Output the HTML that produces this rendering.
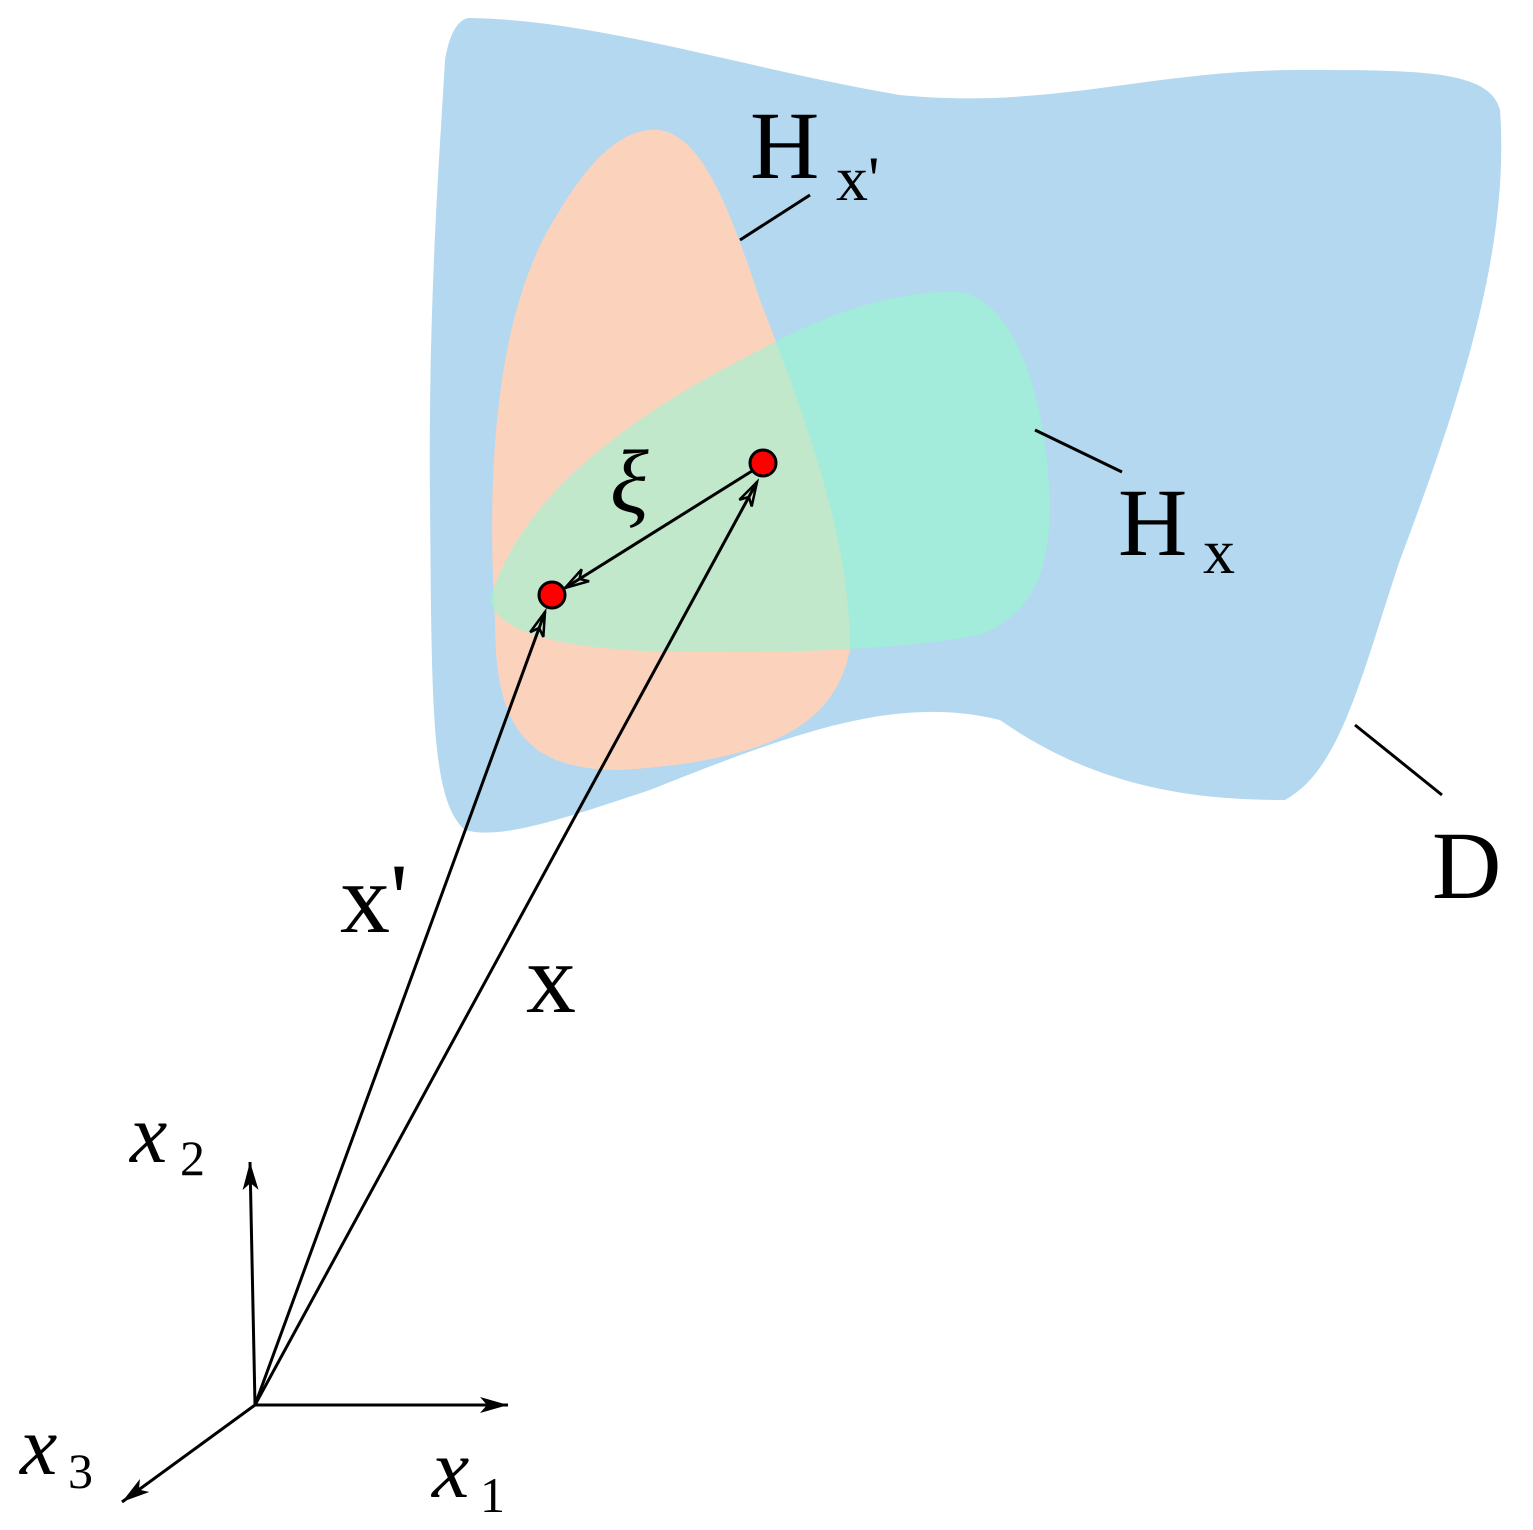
<!DOCTYPE html>
<html><head><style>body{margin:0;background:#fff}svg{display:block}</style></head><body>
<svg width="1533" height="1530" viewBox="0 0 1533 1530" xmlns="http://www.w3.org/2000/svg">
<defs>
<marker id="a" markerWidth="30" markerHeight="20" refX="26" refY="10" orient="auto" markerUnits="userSpaceOnUse">
<path d="M2,3 L26,10 L2,17 L9,10 Z" fill="none" stroke="#000" stroke-width="2.5"/></marker>
<marker id="b" markerWidth="30" markerHeight="20" refX="28" refY="10" orient="auto" markerUnits="userSpaceOnUse">
<path d="M0,2 L28,10 L0,18 L7,10 Z" fill="#000"/></marker>
<clipPath id="pc"><path d="M650,130 C700,125 730,210 760,300 C810,430 850,540 850,650 C835,720 780,760 620,770 C520,770 495,720 495,620 C485,450 500,300 560,210 C590,160 620,132 650,130 Z"/></clipPath>
</defs>
<path d="M470,18 C600,20 750,70 900,95 C1050,110 1150,70 1300,70 C1420,70 1490,70 1500,110 C1510,250 1460,400 1400,560 C1360,680 1340,770 1285,800 C1200,800 1100,790 1000,720 C900,695 800,730 650,790 C560,820 500,840 465,830 C430,800 432,700 430,500 C428,300 440,150 445,60 C450,30 460,18 470,18 Z" fill="#b4d8ef"/>
<path d="M650,130 C700,125 730,210 760,300 C810,430 850,540 850,650 C835,720 780,760 620,770 C520,770 495,720 495,620 C485,450 500,300 560,210 C590,160 620,132 650,130 Z" fill="#fbd3bc"/>
<path d="M490,600 C520,500 620,420 760,350 C850,300 920,290 960,292 C1010,300 1040,380 1048,470 C1055,560 1040,610 980,635 C900,650 800,652 700,652 C590,652 500,640 490,600 Z" fill="#a3ebdb"/>
<g clip-path="url(#pc)"><path d="M490,600 C520,500 620,420 760,350 C850,300 920,290 960,292 C1010,300 1040,380 1048,470 C1055,560 1040,610 980,635 C900,650 800,652 700,652 C590,652 500,640 490,600 Z" fill="#c1e8cb"/></g>
<g stroke="#000" stroke-width="3" fill="none">
<line x1="740" y1="240" x2="810" y2="195"/>
<line x1="1035" y1="430" x2="1122" y2="472"/>
<line x1="1355" y1="725" x2="1442" y2="795"/>
<line x1="255" y1="1405" x2="545" y2="612" marker-end="url(#a)"/>
<line x1="255" y1="1405" x2="757" y2="482" marker-end="url(#a)"/>
<line x1="752" y1="471" x2="565" y2="588" marker-end="url(#a)"/>
<line x1="255" y1="1405" x2="250" y2="1162" marker-end="url(#b)"/>
<line x1="255" y1="1405" x2="508" y2="1405" marker-end="url(#b)"/>
<line x1="255" y1="1405" x2="122" y2="1502" marker-end="url(#b)"/>
</g>
<circle cx="763" cy="463" r="13" fill="#f00" stroke="#000" stroke-width="3"/>
<circle cx="552" cy="595" r="13" fill="#f00" stroke="#000" stroke-width="3"/>
<g font-family="Liberation Serif, serif" fill="#000">
<text x="750" y="178" font-size="96">H</text><text x="836" y="200" font-size="64">x'</text>
<text x="1118" y="555" font-size="96">H</text><text x="1203" y="573" font-size="64">x</text>
<text x="1432" y="898" font-size="96">D</text>
<text x="340" y="932" font-size="100">x'</text>
<text x="526" y="1012" font-size="100">x</text>
<text x="610" y="512" font-size="90" font-style="italic">ξ</text>
<text x="130" y="1162" font-size="84" font-style="italic">x</text><text x="180" y="1175" font-size="50">2</text>
<text x="20" y="1474" font-size="84" font-style="italic">x</text><text x="68" y="1488" font-size="50">3</text>
<text x="432" y="1497" font-size="84" font-style="italic">x</text><text x="480" y="1512" font-size="50">1</text>
</g>
</svg>
</body></html>
